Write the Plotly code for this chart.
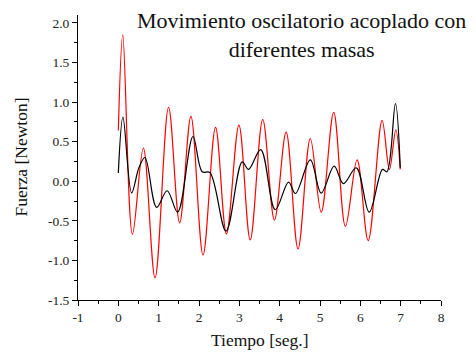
import plotly.graph_objects as go

# Red curve (larger amplitude) key points: time [s], force [N]
t_red = [0.0, 0.11, 0.35, 0.62, 0.91, 1.245, 1.52, 1.80, 2.10, 2.41, 2.68, 2.99, 3.27,
         3.58, 3.87, 4.16, 4.455, 4.76, 5.03, 5.34, 5.63, 5.92, 6.195, 6.54, 6.72, 6.88, 6.99]
f_red = [0.64, 1.85, -0.67, 0.42, -1.22, 0.935, -0.526, 0.82, -0.93, 0.68, -0.665, 0.71, -0.74,
         0.78, -0.49, 0.62, -0.855, 0.54, -0.39, 0.87, -0.57, 0.27, -0.75, 0.77, 0.15, 0.65, 0.15]

# Black curve key points
t_blk = [0.0, 0.115, 0.33, 0.51, 0.66, 0.95, 1.21, 1.47, 1.85, 2.08, 2.27, 2.67, 3.07, 3.23,
         3.53, 3.89, 4.22, 4.39, 4.76, 5.03, 5.35, 5.58, 5.90, 6.22, 6.55, 6.66, 6.87, 6.99]
f_blk = [0.105, 0.81, -0.147, 0.17, 0.30, -0.33, -0.12, -0.39, 0.565, 0.12, 0.11, -0.63, 0.245, 0.15,
         0.40, -0.36, -0.01, -0.155, 0.27, -0.15, 0.19, -0.03, 0.17, -0.39, 0.15, 0.12, 0.98, 0.17]

x_ticks = [-1, 0, 1, 2, 3, 4, 5, 6, 7, 8]
y_ticks = [-1.5, -1.0, -0.5, 0.0, 0.5, 1.0, 1.5, 2.0]

fig = go.Figure()
fig.add_trace(go.Scatter(x=t_red, y=f_red, mode="lines",
                         line=dict(color="#ff0000", width=1.2, shape="spline", smoothing=1.0),
                         hoverinfo="skip"))
fig.add_trace(go.Scatter(x=t_blk, y=f_blk, mode="lines",
                         line=dict(color="#000000", width=1.2, shape="spline", smoothing=1.0),
                         hoverinfo="skip"))

serif = "Liberation Serif"
fig.update_layout(
    width=476, height=353,
    margin=dict(l=78, r=35, t=15, b=53),
    paper_bgcolor="white", plot_bgcolor="white",
    showlegend=False,
    font=dict(family=serif, color="#222222", size=13.5),
    xaxis=dict(range=[-1, 8], tickvals=x_ticks, ticktext=[str(v) for v in x_ticks],
               showline=True, linecolor="black", linewidth=1, mirror=False,
               ticks="outside", ticklen=5, tickwidth=1, tickcolor="black",
               minor=dict(ticks="outside", ticklen=3, dtick=0.5, tick0=0, tickcolor="black"),
               showgrid=False, zeroline=False,
               tickfont=dict(family=serif, size=13.5, color="#222222")),
    yaxis=dict(range=[-1.5, 2.1], tickvals=y_ticks, ticktext=["%.1f" % v for v in y_ticks],
               showline=True, linecolor="black", linewidth=1, mirror=False,
               ticks="outside", ticklen=5, tickwidth=1, tickcolor="black",
               minor=dict(ticks="outside", ticklen=3, dtick=0.25, tick0=0, tickcolor="black"),
               showgrid=False, zeroline=False,
               tickfont=dict(family=serif, size=13.5, color="#222222")),
    annotations=[
        dict(text="Movimiento oscilatorio acoplado con<br>diferentes masas",
             xref="paper", yref="paper", x=(301 - 78) / 363, y=1 + (15 - 6) / 285,
             xanchor="center", yanchor="top", showarrow=False, align="center",
             font=dict(family=serif, size=22, color="#111111")),
        dict(text="Tiempo [seg.]", xref="paper", yref="paper",
             x=0.5, y=-(340 - 300) / 285, xanchor="center", yanchor="middle",
             showarrow=False, font=dict(family=serif, size=17.5, color="#111111")),
        dict(text="Fuerza [Newton]", xref="paper", yref="paper",
             x=-(78 - 20) / 363, y=0.5, xanchor="center", yanchor="middle",
             textangle=-90, showarrow=False,
             font=dict(family=serif, size=17.5, color="#111111")),
    ],
)

fig.write_html("out.html")
